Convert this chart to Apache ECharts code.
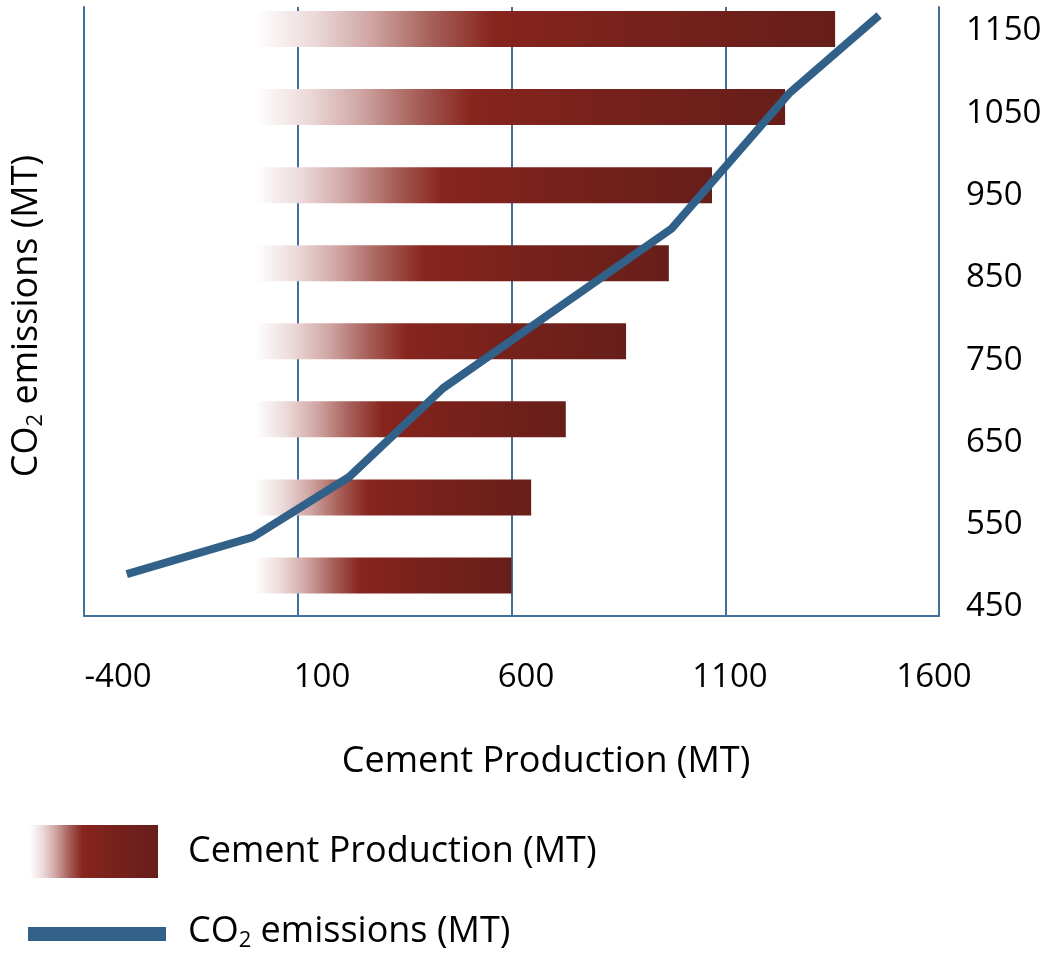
<!DOCTYPE html>
<html>
<head>
<meta charset="utf-8">
<script src="https://cdn.jsdelivr.net/npm/echarts@6/dist/echarts.min.js"></script>
<style>
  html, body { margin: 0; padding: 0; background: #ffffff; }
  #chart { width: 1047px; height: 955px; }
</style>
</head>
<body>
<div id="chart"></div>
<script>
// Cement production per step (bars, bottom to top)
const categories = ['1', '2', '3', '4', '5', '6', '7', '8'];
const cementProduction = [600, 646, 727, 868, 968, 1069, 1240, 1357];

// CO2 emissions curve: production (x) against emissions (y)
const co2Production = [-300, -5, 220, 440, 975, 1251, 1460];
const co2Emissions = [490, 535, 608, 716, 910, 1075, 1169];

// Axis ticks
const xTicks = [-400, 100, 600, 1100, 1600];
const yTicks = [450, 550, 650, 750, 850, 950, 1050, 1150];

const FONT = 'Open Sans';
const FRAME = '#41709c';
const LINE = '#316189';

const xMin = xTicks[0], xMax = xTicks[xTicks.length - 1], xStep = xTicks[1] - xTicks[0];
const yMin = yTicks[0], yMax = yTicks[yTicks.length - 1], yStep = yTicks[1] - yTicks[0];

const plain = v => String(v);

const barGradient = () => new echarts.graphic.LinearGradient(0, 0, 1, 0, [
  { offset: 0.00, color: '#ffffff' },
  { offset: 0.10, color: '#ecdada' },
  { offset: 0.20, color: '#cfa5a3' },
  { offset: 0.30, color: '#a9625c' },
  { offset: 0.41, color: '#87241e' },
  { offset: 0.65, color: '#78211c' },
  { offset: 1.00, color: '#671e19' }
]);

const emissionsData = co2Production.map((x, i) => [x, co2Emissions[i]]);

const hiddenValueAxis = (gridIndex) => ({
  gridIndex, type: 'value', min: 0, max: 1,
  axisLine: { show: false }, axisTick: { show: false },
  axisLabel: { show: false }, splitLine: { show: false }
});

const chart = echarts.init(document.getElementById('chart'), null, { renderer: 'canvas' });

chart.setOption({
  backgroundColor: '#ffffff',
  animation: false,
  grid: [
    { left: 84, right: 108, top: 7, bottom: 339 },     // frame and gridlines
    { left: 84, right: 108, top: 31, bottom: 348 },    // emissions scale
    { left: 84, right: 108, top: 29, bottom: 379.5 },  // production bars (first to last bar centre)
    { left: 118, right: 113, top: 600, bottom: 277 }   // production tick labels
  ],
  xAxis: [
    {
      gridIndex: 0, type: 'value', min: xMin, max: xMax, interval: xStep,
      axisLine: { show: true, onZero: false, lineStyle: { color: FRAME, width: 2 } },
      axisTick: { show: false },
      axisLabel: { show: false },
      splitLine: { show: true, lineStyle: { color: FRAME, width: 2 } }
    },
    {
      gridIndex: 1, type: 'value', min: xMin, max: xMax,
      axisLine: { show: false }, axisTick: { show: false },
      axisLabel: { show: false }, splitLine: { show: false }
    },
    {
      gridIndex: 2, type: 'value', min: xMin, max: xMax,
      axisLine: { show: false }, axisTick: { show: false },
      axisLabel: { show: false }, splitLine: { show: false }
    },
    {
      gridIndex: 3, type: 'value', min: xMin, max: xMax, interval: xStep,
      axisLine: { show: false }, axisTick: { show: false }, splitLine: { show: false },
      axisLabel: {
        show: true, margin: 0, verticalAlign: 'middle', formatter: plain,
        fontFamily: FONT, fontSize: 33, color: '#000000'
      }
    }
  ],
  yAxis: [
    {
      gridIndex: 0, type: 'value', position: 'left', min: 0, max: 1,
      axisLine: { show: true, onZero: false, lineStyle: { color: FRAME, width: 2 } },
      axisTick: { show: false }, axisLabel: { show: false }, splitLine: { show: false }
    },
    {
      gridIndex: 0, type: 'value', position: 'right', min: 0, max: 1,
      axisLine: { show: true, onZero: false, lineStyle: { color: FRAME, width: 2 } },
      axisTick: { show: false }, axisLabel: { show: false }, splitLine: { show: false }
    },
    {
      gridIndex: 1, type: 'value', position: 'right', min: yMin, max: yMax, interval: yStep,
      axisLine: { show: false }, axisTick: { show: false }, splitLine: { show: false },
      axisLabel: {
        show: true, margin: 27, align: 'left', verticalAlign: 'middle', formatter: plain,
        fontFamily: FONT, fontSize: 33, color: '#000000'
      }
    },
    {
      gridIndex: 2, type: 'category', data: categories, boundaryGap: false,
      axisLine: { show: false }, axisTick: { show: false },
      axisLabel: { show: false }, splitLine: { show: false }
    },
    hiddenValueAxis(3)
  ],
  series: [
    {
      name: 'Cement Production (MT)',
      type: 'bar',
      xAxisIndex: 2, yAxisIndex: 3,
      data: cementProduction,
      barWidth: 36,
      clip: false,
      itemStyle: { color: barGradient() },
      z: 2
    },
    {
      name: 'CO2 emissions (MT)',
      type: 'line',
      xAxisIndex: 1, yAxisIndex: 2,
      data: emissionsData,
      symbol: 'none',
      clip: false,
      lineStyle: { color: LINE, width: 8, join: 'round', cap: 'butt' },
      z: 3
    }
  ],
  graphic: [
    {
      type: 'text', x: 27, y: 316, rotation: Math.PI / 2,
      style: {
        text: '{a|CO}{s|2}{a| emissions (MT)}',
        align: 'center', verticalAlign: 'middle',
        rich: {
          a: { fontFamily: FONT, fontSize: 36, lineHeight: 40, fill: '#000000' },
          s: { fontFamily: FONT, fontSize: 22, lineHeight: 22, verticalAlign: 'bottom', fill: '#000000' }
        }
      }
    },
    {
      type: 'text', x: 546, y: 762,
      style: {
        text: 'Cement Production (MT)', align: 'center', verticalAlign: 'middle',
        fontFamily: FONT, fontSize: 36, fill: '#000000'
      }
    },
    {
      type: 'rect', x: 30, y: 825,
      shape: { width: 128, height: 53 },
      style: { fill: barGradient() }
    },
    {
      type: 'text', x: 188, y: 852,
      style: {
        text: 'Cement Production (MT)', align: 'left', verticalAlign: 'middle',
        fontFamily: FONT, fontSize: 36, fill: '#000000'
      }
    },
    {
      type: 'rect', x: 28, y: 927,
      shape: { width: 138, height: 14 },
      style: { fill: LINE }
    },
    {
      type: 'text', x: 188, y: 932,
      style: {
        text: '{a|CO}{s|2}{a| emissions (MT)}',
        align: 'left', verticalAlign: 'middle',
        rich: {
          a: { fontFamily: FONT, fontSize: 36, lineHeight: 40, fill: '#000000' },
          s: { fontFamily: FONT, fontSize: 22, lineHeight: 22, verticalAlign: 'bottom', fill: '#000000' }
        }
      }
    }
  ]
});
</script>
</body>
</html>
